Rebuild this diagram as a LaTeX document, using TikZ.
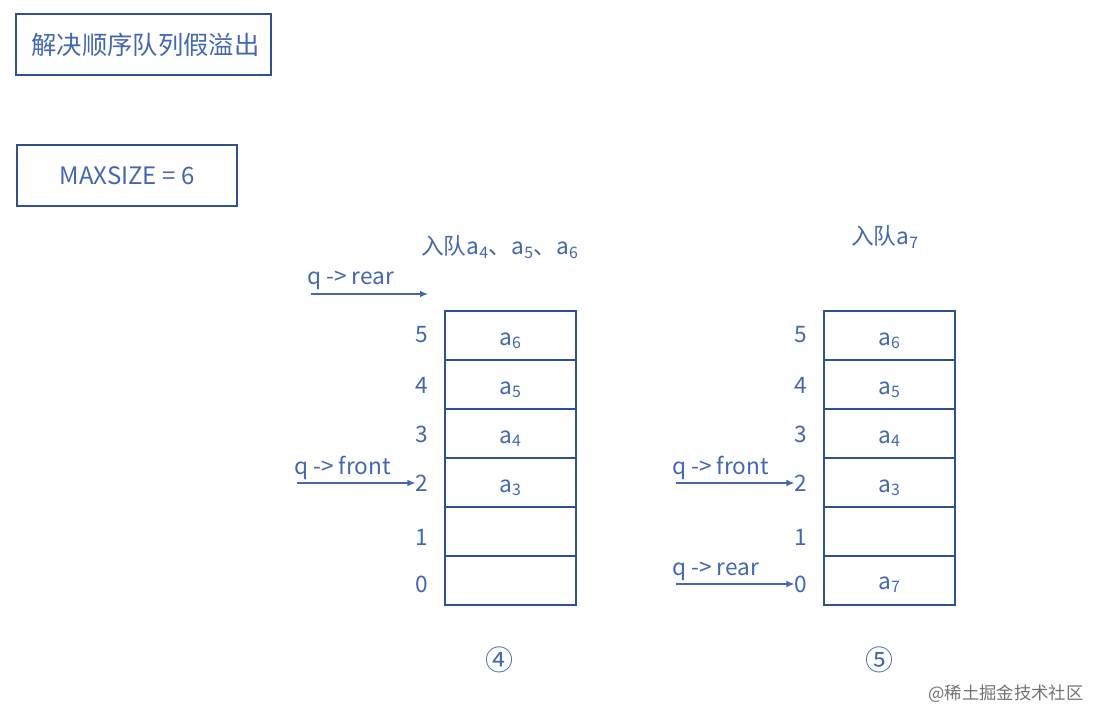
\documentclass[tikz,border=0pt]{standalone}
\usepackage{fontspec}
\setmainfont{Noto Sans CJK SC}
\usetikzlibrary{arrows.meta}
\definecolor{tblue}{RGB}{68,104,176}
\definecolor{bblue}{RGB}{47,82,143}
\tikzset{
  lbl/.style={text=tblue,font=\fontsize{17}{19}\selectfont,inner sep=0pt},
  boxc/.style={draw=bblue,line width=1.2pt,minimum width=98.25pt,minimum height=36.75pt,inner sep=0pt},
  frame/.style={draw=bblue,line width=1.2pt,inner sep=0pt,text=tblue},
  arr/.style={draw=tblue,line width=1pt,-{Latex[length=6pt,width=5pt]}}
}
\begin{document}
\begin{tikzpicture}[x=0.75pt,y=-0.75pt]
\useasboundingbox[fill=white] (0,0) rectangle (1107,727);
\node[frame,minimum width=191pt,minimum height=45.75pt,font=\fontsize{19}{21}\selectfont] (t1) at (143.5,44.5) {\hspace*{3pt}解决顺序队列假溢出};
\node[frame,minimum width=165pt,minimum height=45.75pt,font=\fontsize{18}{20}\selectfont] (t2) at (127,175.5) {MAXSIZE = 6};
\node[lbl] (h1) at (500,247) {入队a\textsubscript{4}、a\textsubscript{5}、a\textsubscript{6}};
\node[lbl] (h2) at (885,237) {入队a\textsubscript{7}};
\foreach \i/\y in {5/335.5,4/384.5,3/433.5,2/482.5,1/531.5,0/580.5}{
  \node[boxc] (L\i) at (510.5,\y) {};
  \node[boxc] (R\i) at (889.5,\y) {};
}
\foreach \i/\y in {5/335,4/385,3/434,2/483,1/537,0/584}{
  \node[lbl] (li\i) at (422,\y) {\i};
  \node[lbl] (ri\i) at (801,\y) {\i};
}
\foreach \i/\t in {5/a\textsubscript{6},4/a\textsubscript{5},3/a\textsubscript{4},2/a\textsubscript{3}}{
  \node[lbl] at ([yshift=-4pt]L\i.center) {\t};
  \node[lbl] at ([yshift=-4pt]R\i.center) {\t};
}
\node[lbl] at ([yshift=-3pt]R0.center) {a\textsubscript{7}};
\node[lbl,anchor=west] (lr) at (307,280) {q -> rear};
\coordinate (lrs) at (311,294); \coordinate (lre) at (428,294);
\draw[arr] (lrs) -- (lre);
\node[lbl,anchor=west] (lf) at (294,468) {q -> front};
\coordinate (lfs) at (297,483);
\draw[arr] (lfs) -- (li2.west);
\node[lbl,anchor=west] (rf) at (672,468) {q -> front};
\coordinate (rfs) at (676,483);
\draw[arr] (rfs) -- (ri2.west);
\node[lbl,anchor=west] (rr) at (672,571) {q -> rear};
\coordinate (rrs) at (676,584);
\draw[arr] (rrs) -- (ri0.west);
\node[lbl,font=\fontsize{21}{23}\selectfont] (c4) at (499,660) {④};
\node[lbl,font=\fontsize{21}{23}\selectfont] (c5) at (879,660) {⑤};
\node[text=black!55,font=\fontsize{13}{15}\selectfont,inner sep=0pt] (wm) at (1006,694) {@稀土掘金技术社区};
\end{tikzpicture}
\end{document}
